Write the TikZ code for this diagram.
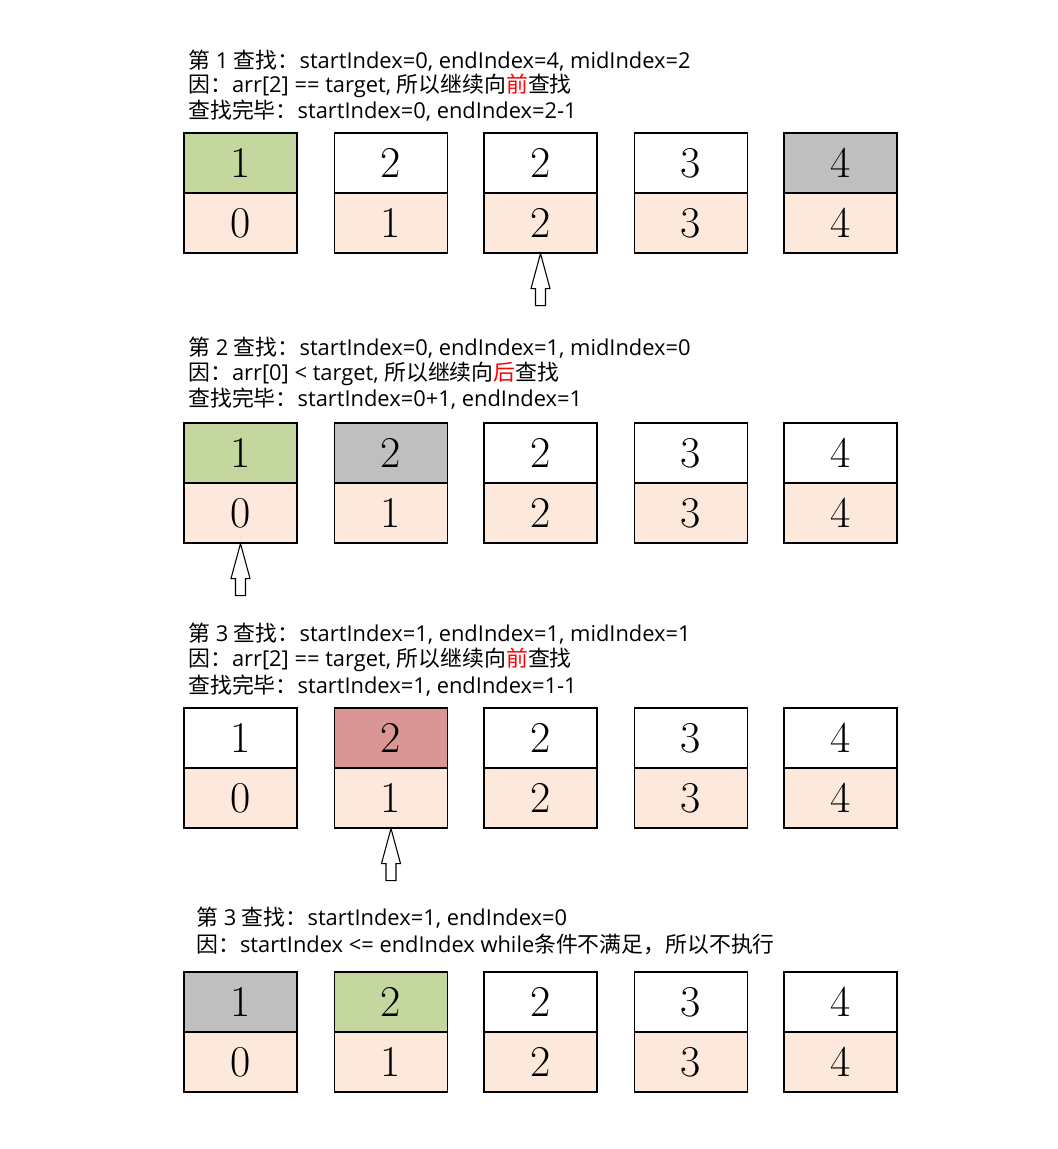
\documentclass[tikz,border=0pt]{standalone}
\usepackage{fontspec}
\newfontfamily\cjk{Noto Sans CJK SC}
\newfontfamily\lat{Open Sans}
\newcommand\zh[1]{{\cjk #1}}
\definecolor{cgreen}{RGB}{196,215,158}
\definecolor{cgray}{RGB}{191,191,191}
\definecolor{cpeach}{RGB}{252,233,219}
\definecolor{cred}{RGB}{218,150,148}
\tikzset{
  cell/.style={draw=black, line width=0.8pt, minimum width=84.75pt, minimum height=45pt, inner sep=0pt, font=\fontsize{33}{33}\selectfont},
  topcell/.style={cell, fill=#1},
  botcell/.style={cell, fill=cpeach},
  txt/.style={anchor=west, inner sep=0pt, font=\lat\fontsize{16.4}{18}\selectfont},
  blockarrow/.style={draw=black, fill=white, line width=0.8pt, line join=miter}
}
\begin{document}
\begin{tikzpicture}[x=0.75pt, y=-0.75pt]
\useasboundingbox (0,0) rectangle (1057,1149);
\def\xs{{240.5,391,540.5,691,840.5}}
\newcommand\cellrow[3]{%
  \foreach \c/\col/\v [count=\i from 0] in {#3} {
    \node[topcell=\col] (#1t\i) at ({\xs[\i]},#2) {\v};
    \node[botcell] (#1b\i) at ({\xs[\i]},#2+60) {\i};
  }%
}
\cellrow{ra}{163}{a/cgreen/1,b/white/2,c/white/2,d/white/3,e/cgray/4}
\cellrow{rb}{453}{a/cgreen/1,b/cgray/2,c/white/2,d/white/3,e/white/4}
\cellrow{rc}{738}{a/white/1,b/cred/2,c/white/2,d/white/3,e/white/4}
\cellrow{rd}{1002}{a/cgray/1,b/cgreen/2,c/white/2,d/white/3,e/white/4}

% texts
\node[txt] (ta1) at (188,61) {\zh{第} 1 \zh{查找：}startIndex=0, endIndex=4, midIndex=2};
\node[txt] (ta2) at (188,86) {\zh{因：}arr[2] == target, \zh{所以继续向\textcolor{red}{前}查找}};
\node[txt] (ta3) at (188,111) {\zh{查找完毕：}startIndex=0, endIndex=2-1};
\node[txt] (tb1) at (188,348) {\zh{第} 2 \zh{查找：}startIndex=0, endIndex=1, midIndex=0};
\node[txt] (tb2) at (188,374) {\zh{因：}arr[0] < target, \zh{所以继续向\textcolor{red}{后}查找}};
\node[txt] (tb3) at (188,399) {\zh{查找完毕：}startIndex=0+1, endIndex=1};
\node[txt] (tc1) at (188,634) {\zh{第} 3 \zh{查找：}startIndex=1, endIndex=1, midIndex=1};
\node[txt] (tc2) at (188,660) {\zh{因：}arr[2] == target, \zh{所以继续向\textcolor{red}{前}查找}};
\node[txt] (tc3) at (188,686) {\zh{查找完毕：}startIndex=1, endIndex=1-1};
\node[txt] (td1) at (196,918) {\zh{第} 3 \zh{查找：}startIndex=1, endIndex=0};
\node[txt] (td2) at (196,944) {\zh{因：}startIndex <= endIndex while\zh{条件不满足，所以不执行}};

% block arrows
\foreach \n in {rab2, rbb0, rcb1} {
  \draw[blockarrow] (\n.south) -- ++(9.5,35) -- ++(-4.5,0) -- ++(0,17) -- ++(-10,0) -- ++(0,-17) -- ++(-4.5,0) -- cycle;
}
\end{tikzpicture}
\end{document}
